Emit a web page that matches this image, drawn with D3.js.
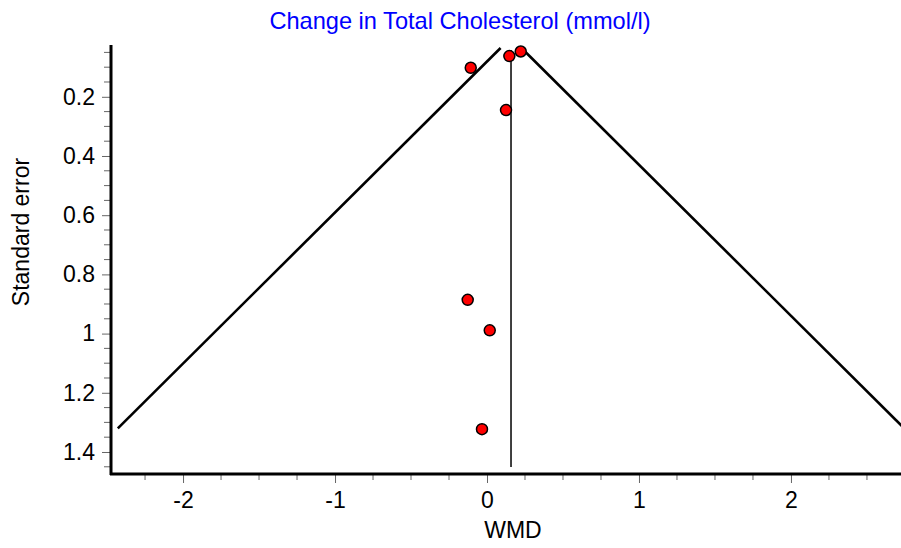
<!DOCTYPE html>
<html>
<head>
<meta charset="utf-8">
<script src="https://cdn.jsdelivr.net/npm/d3@7"></script>
<style>
  body { margin: 0; background: white; }
  text { font-family: "Liberation Sans", Arial, sans-serif; }
</style>
</head>
<body>
<script>
//study estimates (weighted mean difference) and their standard errors
var wmd = [-0.107, 0.147, 0.222, 0.125, -0.127, 0.018, -0.033];
var se = [0.102, 0.0625, 0.047, 0.245, 0.886, 0.989, 1.323];

//pooled estimate and the range of SE the funnel is drawn over
var pooled = 0.158;
var funnelSE = [0.035, 1.32];

//tick labels
var xTicks = [-2, -1, 0, 1, 2];
var yTicks = [0.2, 0.4, 0.6, 0.8, 1, 1.2, 1.4];

var title = "Change in Total Cholesterol (mmol/l)";

var width = 901, height = 548;

var svg = d3.select("body").append("svg")
    .attr("width", width)
    .attr("height", height);

//scales, y is reversed (small SE at the top)
var x = d3.scaleLinear().domain([-2.474, 2.724]).range([111, 901]);
var y = d3.scaleLinear().domain([0.025, 1.471]).range([45, 473]);

//minor ticks every 0.25 on x and 0.05 on y
var xMinor = d3.range(-2.25, 2.75, 0.25).filter(function(d) { return Math.abs(d % 1) > 0.01; });
var yMinor = d3.range(0.05, 1.47, 0.05).filter(function(d) { return Math.abs((d * 5) % 1) > 0.01 && Math.abs((d * 5) % 1) < 0.99; });

//minor ticks
svg.selectAll(".xminor").data(xMinor).enter().append("line")
    .attr("x1", function(d) { return x(d); }).attr("x2", function(d) { return x(d); })
    .attr("y1", 475).attr("y2", 480)
    .style("stroke", "#666").style("stroke-width", 1);

svg.selectAll(".yminor").data(yMinor).enter().append("line")
    .attr("y1", function(d) { return y(d); }).attr("y2", function(d) { return y(d); })
    .attr("x1", 104).attr("x2", 110)
    .style("stroke", "#666").style("stroke-width", 1);

//x axis with major ticks, plain hyphen for negatives
var xAxis = d3.axisBottom(x).tickValues(xTicks).tickSize(9).tickPadding(9).tickFormat(function(d) { return String(d); });
var gx = svg.append("g").attr("transform", "translate(0,474)").call(xAxis);
gx.select(".domain").remove();
gx.selectAll(".tick line").style("stroke", "#666");
gx.selectAll(".tick text").style("font-size", "23px").style("fill", "#000");

//y axis with major ticks
var yAxis = d3.axisLeft(y).tickValues(yTicks).tickSize(9).tickPadding(7).tickFormat(function(d) { return d; });
var gy = svg.append("g").attr("transform", "translate(111,0)").call(yAxis);
gy.select(".domain").remove();
gy.selectAll(".tick line").style("stroke", "#666");
gy.selectAll(".tick text").style("font-size", "23px").style("fill", "#000");

//thick axis lines
svg.append("line").attr("x1", 110).attr("x2", 901).attr("y1", 474).attr("y2", 474)
    .style("stroke", "#000").style("stroke-width", 3);
svg.append("line").attr("x1", 111).attr("x2", 111).attr("y1", 45).attr("y2", 475)
    .style("stroke", "#000").style("stroke-width", 3);

//funnel: pooled +/- 1.96 SE
var funnel = d3.line()
    .x(function(d) { return x(d[0]); })
    .y(function(d) { return y(d[1]); });

[-1, 1].forEach(function(s) {
  svg.append("path")
     .attr("d", funnel(funnelSE.map(function(v) { return [pooled + s * 1.96 * v, v]; })))
     .style("fill", "none")
     .style("stroke", "#000")
     .style("stroke-width", 2.6);
});

//vertical line at pooled estimate
svg.append("line")
    .attr("x1", x(pooled)).attr("x2", x(pooled))
    .attr("y1", y(0.042)).attr("y2", y(1.451))
    .style("stroke", "#000").style("stroke-width", 1.5);

//study points
svg.selectAll(".dot").data(wmd).enter().append("circle")
    .attr("class", "dot")
    .attr("cx", function(d) { return x(d); })
    .attr("cy", function(d, i) { return y(se[i]); })
    .attr("r", 5.5)
    .style("fill", "#f00")
    .style("stroke", "#000")
    .style("stroke-width", 1.5);

//title
svg.append("text")
    .attr("x", 460).attr("y", 29)
    .attr("text-anchor", "middle")
    .style("font-size", "23.6px")
    .style("fill", "#0000ff")
    .text(title);

//axis titles
svg.append("text")
    .attr("x", 513).attr("y", 538)
    .attr("text-anchor", "middle")
    .style("font-size", "23px")
    .text("WMD");

svg.append("text")
    .attr("text-anchor", "middle")
    .attr("transform", "translate(29,232)rotate(-90)")
    .style("font-size", "23px")
    .text("Standard error");
</script>
</body>
</html>
